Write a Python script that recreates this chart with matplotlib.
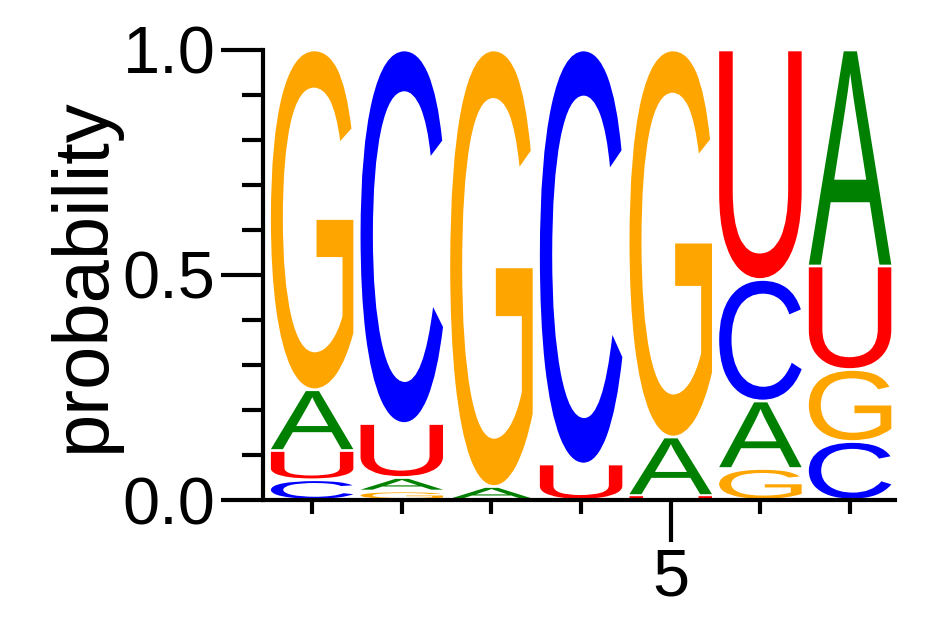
import matplotlib
matplotlib.use("Agg")
import matplotlib.pyplot as plt
from matplotlib.textpath import TextPath
from matplotlib.patches import PathPatch
from matplotlib.font_manager import FontProperties
from matplotlib.transforms import Affine2D

plt.rcParams['font.family'] = ['Liberation Sans', 'DejaVu Sans']

letters = ["A", "C", "G", "U"]
positions = [1, 2, 3, 4, 5, 6, 7]
prob_A = [0.135, 0.03, 0.03, 0.00, 0.13, 0.15, 0.48]
prob_C = [0.045, 0.83, 0.00, 0.92, 0.00, 0.27, 0.13]
prob_G = [0.755, 0.02, 0.97, 0.00, 0.86, 0.07, 0.16]
prob_U = [0.065, 0.12, 0.00, 0.08, 0.01, 0.51, 0.23]
colors = {"A": "#008000", "C": "#0000ff", "G": "#ffa500", "U": "#ff0000"}

fig = plt.figure(figsize=(9.42, 6.17), dpi=100)
ax = fig.add_axes([0.279, 0.1896, 0.671, 0.7294])
fp = FontProperties(family="Liberation Sans")
width = 0.92
gap = 0.006

for i, p in enumerate(positions):
    vals = {"A": prob_A[i], "C": prob_C[i], "G": prob_G[i], "U": prob_U[i]}
    y = 0.0
    for L in sorted(letters, key=lambda k: vals[k]):
        h = vals[L]
        if h <= 0:
            continue
        hh = max(h - gap, h * 0.7)
        tp = TextPath((0, 0), L, size=1, prop=fp)
        bb = tp.get_extents()
        tr = (Affine2D().translate(-bb.x0, -bb.y0)
              .scale(width / bb.width, hh / bb.height)
              .translate(p - width / 2, y + (h - hh) / 2))
        ax.add_patch(PathPatch(tr.transform_path(tp), color=colors[L], lw=0))
        y += h

ax.set_xlim(0.45, 7.5)
ax.set_ylim(0, 1)
for s in ["top", "right"]:
    ax.spines[s].set_visible(False)
for s in ["left", "bottom"]:
    ax.spines[s].set_linewidth(3)
ax.set_yticks([0, 0.5, 1.0])
ax.set_yticklabels(["0.0", "0.5", "1.0"])
ax.set_yticks([0.1, 0.2, 0.3, 0.4, 0.6, 0.7, 0.8, 0.9], minor=True)
ax.set_xticks([5])
ax.set_xticks([1, 2, 3, 4, 6, 7], minor=True)
ax.tick_params(which="major", length=30, width=3, labelsize=48, pad=4)
ax.tick_params(which="minor", length=15, width=3)
ax.tick_params(axis="x", which="minor", length=10)
ax.set_ylabel("probability", fontsize=56, labelpad=2)
fig.savefig("out.png", dpi=100)
